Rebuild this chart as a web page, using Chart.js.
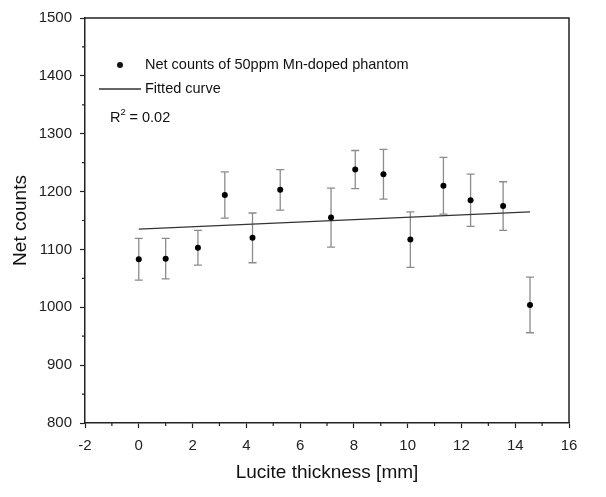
<!DOCTYPE html>
<html>
<head>
<meta charset="utf-8">
<script src="https://cdn.jsdelivr.net/npm/chart.js@4"></script>
<style>
  body { margin: 0; background: #fff; }
  #wrap { width: 606px; height: 497px; }
</style>
</head>
<body>
<div id="wrap"><canvas id="myChart" width="606" height="497"></canvas></div>
<script>
// measured points
const thickness = [0, 1, 2.2, 3.2, 4.23, 5.26, 7.15, 8.05, 9.1, 10.1, 11.33, 12.34, 13.55, 14.55];
const netCounts = [1083, 1084, 1103, 1194, 1120, 1203, 1155, 1238, 1230, 1117, 1210, 1185, 1175, 1004];
const errors = [36, 35, 30, 40, 43, 35, 51, 33, 43, 48, 49, 45, 42, 48];

// fitted line (end points)
const fitX = [0, 14.55];
const fitY = [1135, 1165];

const xTicks = [-2, 0, 2, 4, 6, 8, 10, 12, 14, 16];
const yTicks = [800, 900, 1000, 1100, 1200, 1300, 1400, 1500];

const FONT = '"Liberation Sans", Arial, sans-serif';
const AXIS = '#222';

// error bars go under the points
const errorBars = {
    id: 'errorBars',
    beforeDatasetsDraw(chart) {
        const ctx = chart.ctx;
        const xs = chart.scales.x, ys = chart.scales.y;
        ctx.save();
        ctx.strokeStyle = '#8c8c8c';
        ctx.lineWidth = 1.3;
        thickness.forEach((t, i) => {
            const px = xs.getPixelForValue(t);
            const top = ys.getPixelForValue(netCounts[i] + errors[i]);
            const bot = ys.getPixelForValue(netCounts[i] - errors[i]);
            ctx.beginPath();
            ctx.moveTo(px, top); ctx.lineTo(px, bot);
            ctx.moveTo(px - 4, top); ctx.lineTo(px + 4, top);
            ctx.moveTo(px - 4, bot); ctx.lineTo(px + 4, bot);
            ctx.stroke();
        });
        ctx.restore();
    }
};

// frame, minor ticks and the legend inside the plot
const extras = {
    id: 'extras',
    afterDatasetsDraw(chart) {
        const ctx = chart.ctx;
        const xs = chart.scales.x, ys = chart.scales.y;
        const a = chart.chartArea;

        ctx.save();
        ctx.strokeStyle = AXIS;
        ctx.lineWidth = 1.5;
        ctx.beginPath();
        ctx.moveTo(a.left, a.top); ctx.lineTo(a.right, a.top); ctx.lineTo(a.right, a.bottom);
        ctx.stroke();

        ctx.lineWidth = 1.2;
        ctx.beginPath();
        for (let v = -1; v < 16; v += 2) {
            const px = xs.getPixelForValue(v);
            ctx.moveTo(px, a.bottom); ctx.lineTo(px, a.bottom + 3);
        }
        for (let v = 850; v < 1500; v += 100) {
            const py = ys.getPixelForValue(v);
            ctx.moveTo(a.left, py); ctx.lineTo(a.left - 3, py);
        }
        ctx.stroke();
        ctx.restore();

        ctx.save();
        ctx.fillStyle = '#111';
        ctx.font = '14.5px ' + FONT;
        ctx.textBaseline = 'middle';
        ctx.beginPath();
        ctx.arc(a.left + 35, a.top + 47, 3, 0, Math.PI * 2);
        ctx.fill();
        ctx.fillText(chart.data.datasets[0].label, a.left + 60, a.top + 47);
        ctx.strokeStyle = '#333';
        ctx.lineWidth = 1.3;
        ctx.beginPath();
        ctx.moveTo(a.left + 14, a.top + 71); ctx.lineTo(a.left + 56, a.top + 71);
        ctx.stroke();
        ctx.fillText(chart.data.datasets[1].label, a.left + 60, a.top + 71);
        ctx.fillText('R', a.left + 25, a.top + 100);
        const rw = ctx.measureText('R').width;
        ctx.font = '9.5px ' + FONT;
        ctx.fillText('2', a.left + 25 + rw, a.top + 94);
        ctx.font = '14.5px ' + FONT;
        ctx.fillText(' = 0.02', a.left + 25 + rw + 5, a.top + 100);
        ctx.restore();
    }
};

const data = {
    datasets: [{
        label: 'Net counts of 50ppm Mn-doped phantom',
        type: 'scatter',
        data: thickness.map((t, i) => ({ x: t, y: netCounts[i] })),
        backgroundColor: '#000',
        borderColor: '#000',
        borderWidth: 0,
        pointRadius: 3,
        showLine: false,
    }, {
        label: 'Fitted curve',
        type: 'line',
        data: fitX.map((x, i) => ({ x: x, y: fitY[i] })),
        borderColor: '#333',
        borderWidth: 1.3,
        pointRadius: 0,
        fill: false,
    }]
};

const config = {
    type: 'scatter',
    data: data,
    plugins: [errorBars, extras],
    options: {
        responsive: false,
        animation: false,
        layout: { padding: { left: 0, right: 37, top: 18, bottom: 0 } },
        plugins: { legend: { display: false }, tooltip: { enabled: false } },
        scales: {
            x: {
                type: 'linear',
                min: -2, max: 16,
                afterBuildTicks: s => { s.ticks = xTicks.map(v => ({ value: v })); },
                afterFit: s => { s.height = 74; },
                border: { color: AXIS, width: 1.5 },
                grid: { drawOnChartArea: false, drawTicks: true, tickLength: 5, tickColor: AXIS, tickWidth: 1.2 },
                ticks: { color: '#222', font: { family: FONT, size: 15 }, padding: 9, maxRotation: 0, callback: v => String(v) },
                title: { display: true, text: 'Lucite thickness [mm]', color: '#111', font: { family: FONT, size: 19 }, padding: { top: 0, bottom: 13 } }
            },
            y: {
                type: 'linear',
                min: 800, max: 1500,
                afterBuildTicks: s => { s.ticks = yTicks.map(v => ({ value: v })); },
                afterFit: s => { s.width = 85; },
                border: { color: AXIS, width: 1.5 },
                grid: { drawOnChartArea: false, drawTicks: true, tickLength: 5, tickColor: AXIS, tickWidth: 1.2 },
                ticks: { color: '#222', font: { family: FONT, size: 15 }, padding: 8, callback: v => String(v) },
                title: { display: true, text: 'Net counts', color: '#111', font: { family: FONT, size: 19 }, padding: { top: 9, bottom: 0 } }
            }
        }
    }
};

const myChart = new Chart(document.getElementById('myChart'), config);
</script>
</body>
</html>
